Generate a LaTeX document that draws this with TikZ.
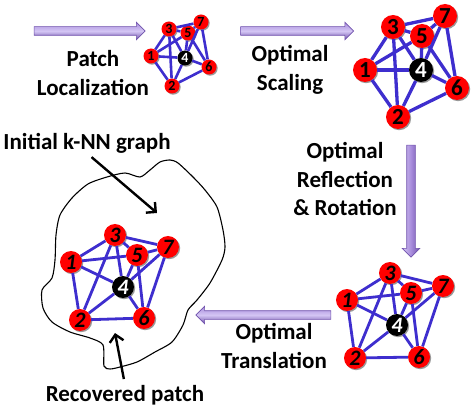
\documentclass[tikz,border=0pt]{standalone}
\usepackage{fontspec}
\setmainfont{Carlito}
\usetikzlibrary{arrows.meta,shapes.arrows,shadows}
\definecolor{edgeblue}{RGB}{62,46,206}
\definecolor{arrlight}{RGB}{212,198,244}
\definecolor{arrmid}{RGB}{168,140,220}
\definecolor{arrdark}{RGB}{112,82,172}

\begin{document}
\begin{tikzpicture}[x=1pt,y=-1pt,
  lbl/.style={font=\fontsize{23}{28.5}\selectfont\bfseries,align=center,inner sep=0pt},
  vtx/.style={circle,fill=red,inner sep=0pt,text=black,
    drop shadow={shadow xshift=1.2pt,shadow yshift=-1.2pt,opacity=0.4,fill=black}},
  hub/.style={vtx,fill=black,text=white},
  vsmall/.style={minimum size=15pt,font=\fontsize{14}{14}\selectfont\bfseries},
  vbig/.style={minimum size=24pt,font=\fontsize{23}{23}\selectfont\bfseries},
  vmed/.style={minimum size=22pt,font=\fontsize{22}{22}\selectfont\bfseries\itshape},
  edge/.style={draw=edgeblue,line width=2.8pt},
  fat/.style={single arrow,inner xsep=0pt,inner ysep=4pt,single arrow head extend=4.5pt,
    single arrow head indent=0pt,draw=arrdark,line width=0.6pt},
  pointer/.style={line width=2.4pt,-{Straight Barb[length=7pt,width=14pt]}}]
\useasboundingbox (0,0) rectangle (474,414);
% ---- (a) localized patch ----
\node (a3) [vtx,vsmall] at (169,29) {3};
\node (a7) [vtx,vsmall] at (201,22) {7};
\node (a5) [vtx,vsmall] at (188,33) {5};
\node (a1) [vtx,vsmall] at (151,56) {1};
\node (a4) [hub,vsmall] at (185,58) {4};
\node (a6) [vtx,vsmall] at (209,67) {6};
\node (a2) [vtx,vsmall] at (172,86) {2};
\foreach \u/\v in {3/7,3/5,5/7,1/3,2/3,3/4,1/5,1/4,1/2,2/4,2/6,4/6,4/5,4/7,6/7,5/6}
  \draw[edge,line width=2.6pt] (a\u) -- (a\v);
% ---- (b) after scaling ----
\node (b3) [vtx,vbig] at (393,27) {3};
\node (b7) [vtx,vbig] at (445,16) {7};
\node (b5) [vtx,vbig] at (422,36) {5};
\node (b1) [vtx,vbig] at (365,70) {1};
\node (b4) [hub,vbig] at (421,70) {4};
\node (b6) [vtx,vbig] at (457,88) {6};
\node (b2) [vtx,vbig] at (398,117) {2};
\foreach \u/\v in {3/7,3/5,5/7,1/3,2/3,3/4,1/5,1/4,1/2,2/4,2/6,4/6,4/5,4/7,6/7,5/6}
  \draw[edge,line width=3.3pt] (b\u) -- (b\v);
% ---- (c) after reflection and rotation ----
\node (c3) [vtx,vmed] at (390,273) {3};
\node (c7) [vtx,vmed] at (443,286) {7};
\node (c5) [vtx,vmed] at (411,293) {5};
\node (c1) [vtx,vmed] at (347,300) {1};
\node (c4) [hub,vmed] at (397,325) {4};
\node (c2) [vtx,vmed] at (355,358) {2};
\node (c6) [vtx,vmed] at (419,357) {6};
\foreach \u/\v in {3/7,3/5,5/7,1/3,2/3,3/4,1/5,1/4,1/2,2/4,2/6,4/6,4/5,4/7,6/7,5/6}
  \draw[edge] (c\u) -- (c\v);
% ---- (d) recovered patch inside the k-NN graph ----
\draw[line width=1.1pt] plot[smooth cycle,tension=0.45] coordinates {
  (107,177) (125,173) (140,177) (150,170) (160,162) (170,160) (178,163)
  (193,177) (205,190) (217,207) (223,230) (225,247) (222,260) (210,283)
  (197,300) (188,310) (183,325) (172,342) (155,352) (137,362) (120,367)
  (110,369) (104,366) (103,345) (90,338) (70,332) (52,322) (43,308)
  (42,290) (52,278) (55,260) (56,235) (60,215) (72,198) (88,184)};
\node (d3) [vtx,vmed] at (115,235) {3};
\node (d7) [vtx,vmed] at (168,247) {7};
\node (d5) [vtx,vmed] at (137,255) {5};
\node (d1) [vtx,vmed] at (71,262) {1};
\node (d4) [hub,vmed] at (123,287) {4};
\node (d2) [vtx,vmed] at (80,320) {2};
\node (d6) [vtx,vmed] at (144,318) {6};
\foreach \u/\v in {3/7,3/5,5/7,1/3,2/3,3/4,1/5,1/4,1/2,2/4,2/6,4/6,4/5,4/7,6/7,5/6}
  \draw[edge] (d\u) -- (d\v);
% ---- step arrows ----
\node (arrLoc) [fat,minimum height=111pt,top color=arrmid,bottom color=arrdark,middle color=arrlight] at (87.5,31) {};
\node (arrScale) [fat,minimum height=113pt,top color=arrmid,bottom color=arrdark,middle color=arrlight] at (295,31) {};
\node (arrRot) [fat,inner xsep=4pt,inner ysep=0pt,shape border rotate=270,minimum height=112pt,left color=arrlight,right color=arrdark,middle color=arrmid] at (411,199) {};
\node (arrTrans) [fat,shape border rotate=180,minimum height=135pt,top color=arrmid,bottom color=arrdark,middle color=arrlight] at (265.5,315) {};
% ---- step labels ----
\node (tLoc) [lbl] at (93,73) {Patch\\Localization};
\node (tScale) [lbl] at (290,70) {Optimal\\Scaling};
\node (tRot) [lbl] at (345,179) {Optimal\\Reflection\\\& Rotation};
\node (tTrans) [lbl] at (274,346) {Optimal\\Translation};
% ---- callouts ----
\node (tInit) [lbl] at (87,143) {Initial k-NN graph};
\node (tRec) [lbl] at (125,395) {Recovered patch};
\coordinate (pInit) at (157,213);
\coordinate (pRec) at (115,333);
\draw[pointer,shorten <=6pt] (tInit.south) -- (pInit);
\draw[pointer,shorten <=6pt] (tRec.north) -- (pRec);
\end{tikzpicture}
\end{document}
